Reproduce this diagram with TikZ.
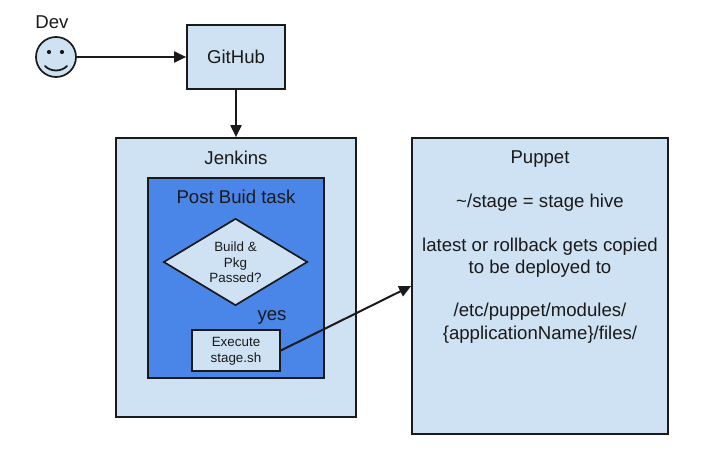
\documentclass[tikz,border=0pt]{standalone}
\usepackage{fontspec}
\setmainfont{Liberation Sans}
\usetikzlibrary{shapes.geometric,arrows.meta}
\definecolor{lightblue}{HTML}{CFE2F3}
\definecolor{midblue}{HTML}{4A86E8}
\definecolor{inkc}{HTML}{1A1A1A}
\newcommand{\bigtxt}{\fontsize{18.6}{22.2}\selectfont}
\newcommand{\smalltxt}{\fontsize{13.4}{15.7}\selectfont}
\tikzset{
  boxb/.style={draw=inkc,line width=1.7pt,fill=lightblue,inner sep=0pt,text=inkc,align=center},
  lbl/.style={inner sep=0pt,text=inkc,align=center},
  conn/.style={draw=inkc,line width=2pt,-{Triangle[length=12pt,width=11pt]}}
}
\begin{document}
\begin{tikzpicture}[x=1pt,y=-1pt]
\useasboundingbox (0,0) rectangle (713,457);
\node[boxb,minimum width=98pt,minimum height=64pt,font=\bigtxt] (github) at (236,57) {GitHub};
\node[boxb,minimum width=240pt,minimum height=279pt] (jenkins) at (236,277.5) {};
\node[boxb,minimum width=176pt,minimum height=200pt,fill=midblue] (post) at (236,278) {};
\node[boxb,shape=diamond,minimum width=144pt,minimum height=87pt,font=\smalltxt] (dia) at (235.5,262) {};
\node[lbl,font=\smalltxt] (diat) at (235.5,262.5) {Build \&\\Pkg\\Passed?};
\node[boxb,minimum width=88pt,minimum height=41pt] (exec) at (236,350.5) {};
\node[lbl,font=\smalltxt] (exect) at (236,351.5) {Execute\\stage.sh};
\node[boxb,minimum width=256pt,minimum height=296pt] (puppet) at (540,286) {};
\node[boxb,circle,minimum size=40pt] (dev) at (56,57) {};
\fill[inkc] (49,52) circle (2.1pt) (62,52) circle (2.1pt);
\draw[inkc,line width=1.8pt,line cap=round] (45,66) .. controls (51,72) and (61,72) .. (67,66);
\node[lbl,font=\bigtxt] (devl) at (52,22) {Dev};
\node[lbl,font=\bigtxt] (jl) at (236,158) {Jenkins};
\node[lbl,font=\bigtxt] (pl) at (236,197) {Post Buid task};
\node[lbl,font=\bigtxt] (yes) at (272,317) {yes};
\node[lbl,font=\bigtxt,anchor=north] (ptext) at (540,151) {Puppet\\[21.4pt]\textasciitilde/stage = stage hive\\[21.4pt]latest or rollback gets copied\\to be deployed to\\[21.4pt]/etc/puppet/modules/\\\{applicationName\}/files/};
\draw[conn] (dev) -- (github);
\draw[conn] (github) -- (jenkins);
\draw[conn] (exec.east) -- (puppet.west);
\end{tikzpicture}
\end{document}
